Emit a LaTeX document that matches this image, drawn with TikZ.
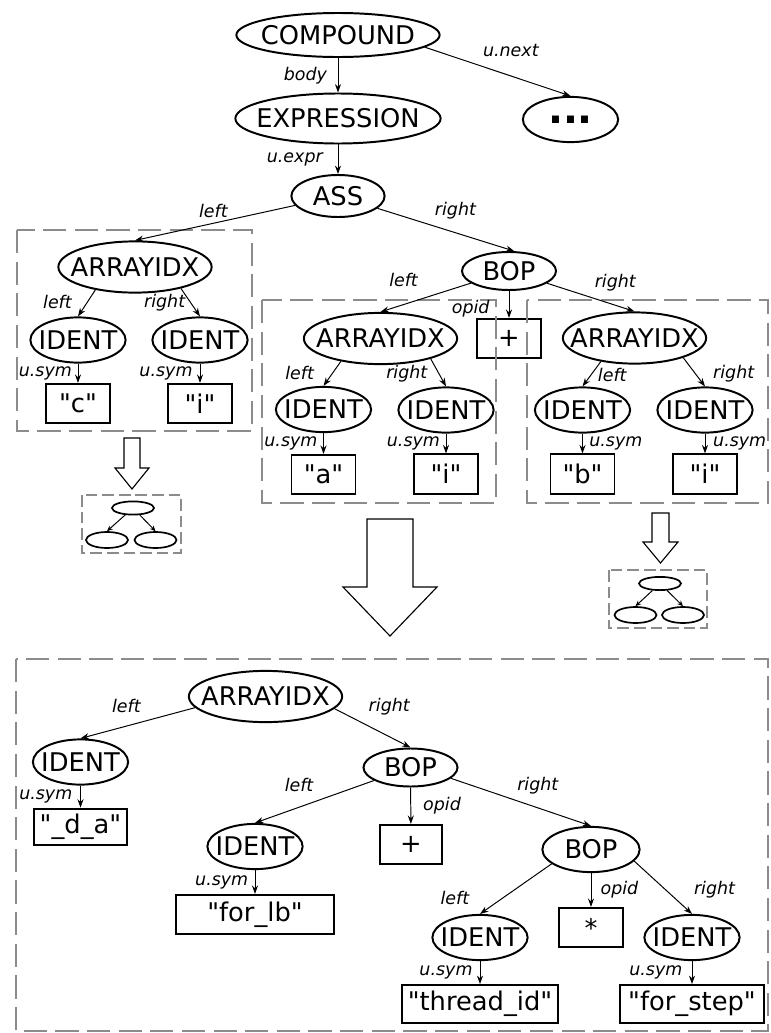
\documentclass[tikz,border=0pt]{standalone}
\usepackage{fontspec}
\setmainfont{DejaVu Sans}
\usetikzlibrary{arrows.meta, shapes.geometric}
\newcommand{\strlit}[1]{\textquotedbl#1\textquotedbl}

\begin{document}
\begin{tikzpicture}[x=0.025cm, y=-0.025cm, >={Stealth[length=6pt, width=4.3pt]},
        astnode/.style={draw, ellipse, line width=1.4pt, inner sep=-20pt, font=\fontsize{18.3}{20}\selectfont},
        idxnode/.style={astnode, minimum width=3.83cm, minimum height=1.28cm},
        identnode/.style={astnode, minimum width=2.38cm, minimum height=1.13cm},
        bopnode/.style={astnode, minimum width=2.35cm, minimum height=0.95cm},
        symbox/.style={draw, rectangle, line width=1.4pt, inner sep=0pt, minimum width=1.6cm, minimum height=0.98cm, font=\fontsize{18.3}{20}\selectfont},
        stub/.style={draw, ellipse, line width=1.2pt, inner sep=0pt, minimum width=1.05cm, minimum height=0.4cm},
        link/.style={->, line width=0.7pt},
        minilink/.style={->, >={Stealth[length=4pt, width=3.5pt]}, line width=0.7pt},
        edgelbl/.style={font=\fontsize{12.4}{14}\selectfont\itshape, inner sep=1pt},
        dashbox/.style={draw=black!45, line width=2pt, dash pattern=on 16.5pt off 6pt},
        minibox/.style={draw=black!45, line width=1.4pt, dash pattern=on 8.3pt off 3.5pt},
        hollow/.style={draw, line width=0.8pt, fill=white}]
    \useasboundingbox (0,0) rectangle (770,1033);

    \node[astnode, minimum width=5.08cm, minimum height=1.1cm] (comp) at (338,35) {COMPOUND};
    \node[astnode, minimum width=2.38cm, minimum height=1.13cm, font=\fontsize{28}{30}\selectfont\bfseries] (more) at (570.5,119.5) {...};
    \node[astnode, minimum width=5.13cm, minimum height=1.25cm] (expr) at (338,118.5) {EXPRESSION};
    \node[astnode, minimum width=2.33cm, minimum height=1.05cm] (ass) at (338,196) {ASS};

    \node[idxnode] (idxc) at (135,267) {ARRAYIDX};
    \node[identnode] (identc) at (78,340) {IDENT};
    \node[identnode] (identi) at (200,340) {IDENT};
    \node[symbox] (strc) at (78,403.5) {\strlit{c}};
    \node[symbox] (stri) at (200,403.5) {\strlit{i}};

    \node[bopnode] (bop) at (509,271) {BOP};
    \node[symbox] (plus) at (509,338.5) {+};
    \node[idxnode] (idxa) at (380.5,338.5) {ARRAYIDX};
    \node[identnode] (identa) at (323.5,409.5) {IDENT};
    \node[identnode] (identai) at (446,410) {IDENT};
    \node[symbox] (stra) at (323.5,474.5) {\strlit{a}};
    \node[symbox] (strai) at (446,474) {\strlit{i}};
    \node[idxnode, minimum width=3.58cm] (idxb) at (634.5,338) {ARRAYIDX};
    \node[identnode] (identb) at (582.5,410) {IDENT};
    \node[identnode] (identbi) at (705,410) {IDENT};
    \node[symbox] (strb) at (582.5,474) {\strlit{b}};
    \node[symbox] (strbi) at (705,474) {\strlit{i}};

    \node[idxnode] (idxt) at (265.5,696.5) {ARRAYIDX};
    \node[identnode] (identda) at (80.5,762) {IDENT};
    \node[symbox, minimum width=2.33cm, minimum height=0.92cm] (strda) at (80.5,827) {\strlit{\_d\_a}};
    \node[bopnode] (bopr) at (410.5,767.5) {BOP};
    \node[symbox, minimum width=1.55cm] (plusr) at (411,844.5) {+};
    \node[identnode] (identlb) at (255,846.5) {IDENT};
    \node[symbox, minimum width=3.95cm] (strlb) at (255,914.5) {\strlit{for\_lb}};
    \node[bopnode, minimum width=2.43cm, minimum height=1.13cm] (bopm) at (591,849.5) {BOP};
    \node[identnode] (identtid) at (480,937.5) {IDENT};
    \node[symbox] (star) at (591,927.5) {*};
    \node[identnode] (identfs) at (692,937.5) {IDENT};
    \node[symbox, minimum width=3.9cm, minimum height=0.95cm] (strtid) at (480,1004) {\strlit{thread\_id}};
    \node[symbox, minimum width=3.6cm, minimum height=0.95cm] (strfs) at (692,1004) {\strlit{for\_step}};

    \node[stub, minimum height=0.33cm] (mt) at (133,508) {};
    \node[stub] (ml) at (107,540) {};
    \node[stub] (mr) at (155.5,540) {};
    \node[stub, minimum height=0.33cm] (nt) at (660,583.5) {};
    \node[stub] (nl) at (635.5,615) {};
    \node[stub] (nr) at (683,615) {};

    \draw[dashbox] (17,230) rectangle (252,431);
    \draw[dashbox] (262,300) rectangle (496,503);
    \draw[dashbox] (527,300) rectangle (768,503);
    \draw[dashbox] (16,659) rectangle (768,1031);
    \draw[minibox] (82,495) rectangle (181,553);
    \draw[minibox] (609,570) rectangle (707,628);

    \draw[hollow] (124,438) -- (140,438) -- (140,468) -- (149,468) -- (132,489) -- (115,468) -- (124,468) -- cycle;
    \draw[hollow] (367,519) -- (413,519) -- (413,587) -- (437,587) -- (390,636) -- (343,587) -- (367,587) -- cycle;
    \draw[hollow] (652,513) -- (669,513) -- (669,542) -- (678,542) -- (660.5,563) -- (643,542) -- (652,542) -- cycle;

    \draw[link] (comp) -- node[edgelbl, left=6.5pt] {body} (expr);
    \draw[link] (comp.-8) -- node[edgelbl, pos=0.59, above=12pt] {u.next} (more.north);
    \draw[link] (expr) -- node[edgelbl, left=9.5pt] {u.expr} (ass);
    \draw[link] (ass) -- node[edgelbl, pos=0.51, above=2.7pt] {left} (idxc.north);
    \draw[link] (ass) -- node[edgelbl, pos=0.57, above=8pt] {right} (bop.75);

    \draw[link] (idxc.-150) -- node[edgelbl, pos=0.46, left=9.8pt] {left} (identc.north);
    \draw[link] (idxc.-25) -- node[edgelbl, pos=0.51, left=2.6pt] {right} (identi.north);
    \draw[link] (identc) -- node[edgelbl, left=3pt] {u.sym} (strc);
    \draw[link] (identi) -- node[edgelbl, left=4pt] {u.sym} (stri);

    \draw[link] (bop) -- node[edgelbl, pos=0.745, above=11pt] {left} (idxa.north);
    \draw[link] (bop) -- node[edgelbl, pos=0.65, left=12.5pt] {opid} (plus);
    \draw[link] (bop) -- node[edgelbl, pos=0.78, above=8.5pt] {right} (idxb.north);
    \draw[link] (idxa.-150) -- node[edgelbl, pos=0.49, left=11.8pt] {left} (identa.north);
    \draw[link] (idxa.-22) -- node[edgelbl, pos=0.54, left=7pt] {right} (identai.north);
    \draw[link] (identa) -- node[edgelbl, left=3pt] {u.sym} (stra);
    \draw[link] (identai) -- node[edgelbl, left=3pt] {u.sym} (strai);
    \draw[link] (idxb.-145) -- node[edgelbl, pos=0.53, right=3.5pt] {left} (identb.north);
    \draw[link] (idxb.-22) -- node[edgelbl, pos=0.56, right=11.3pt] {right} (identbi.north);
    \draw[link] (identb) -- node[edgelbl, right=3.5pt] {u.sym} (strb);
    \draw[link] (identbi) -- node[edgelbl, right=4.5pt] {u.sym} (strbi);

    \draw[minilink] (mt) -- (ml.north);
    \draw[minilink] (mt) -- (mr.north);
    \draw[minilink] (nt) -- (nl.north);
    \draw[minilink] (nt) -- (nr.north);

    \draw[link] (idxt.-171) -- node[edgelbl, pos=0.6, above=8.5pt] {left} (identda.north);
    \draw[link] (idxt.-10) -- node[edgelbl, pos=0.72, above=14pt] {right} (bopr.north);
    \draw[link] (identda) -- node[edgelbl, left=4.5pt] {u.sym} (strda);
    \draw[link] (bopr) -- node[edgelbl, pos=0.63, above=9.5pt] {left} (identlb.north);
    \draw[link] (bopr) -- node[edgelbl, right=7.5pt] {opid} (plusr);
    \draw[link] (bopr.-15) -- node[edgelbl, pos=0.62, above=8.5pt] {right} (bopm.north);
    \draw[link] (identlb) -- node[edgelbl, left=3.5pt] {u.sym} (strlb);
    \draw[link] (bopm.-160) -- node[edgelbl, pos=0.68, left=22.7pt] {left} (identtid.north);
    \draw[link] (bopm) -- node[edgelbl, right=5.5pt] {opid} (star);
    \draw[link] (bopm.-15) -- node[edgelbl, pos=0.54, right=19pt] {right} (identfs.north);
    \draw[link] (identtid) -- node[edgelbl, left=4pt] {u.sym} (strtid);
    \draw[link] (identfs) -- node[edgelbl, left=5.5pt] {u.sym} (strfs);
\end{tikzpicture}
\end{document}
